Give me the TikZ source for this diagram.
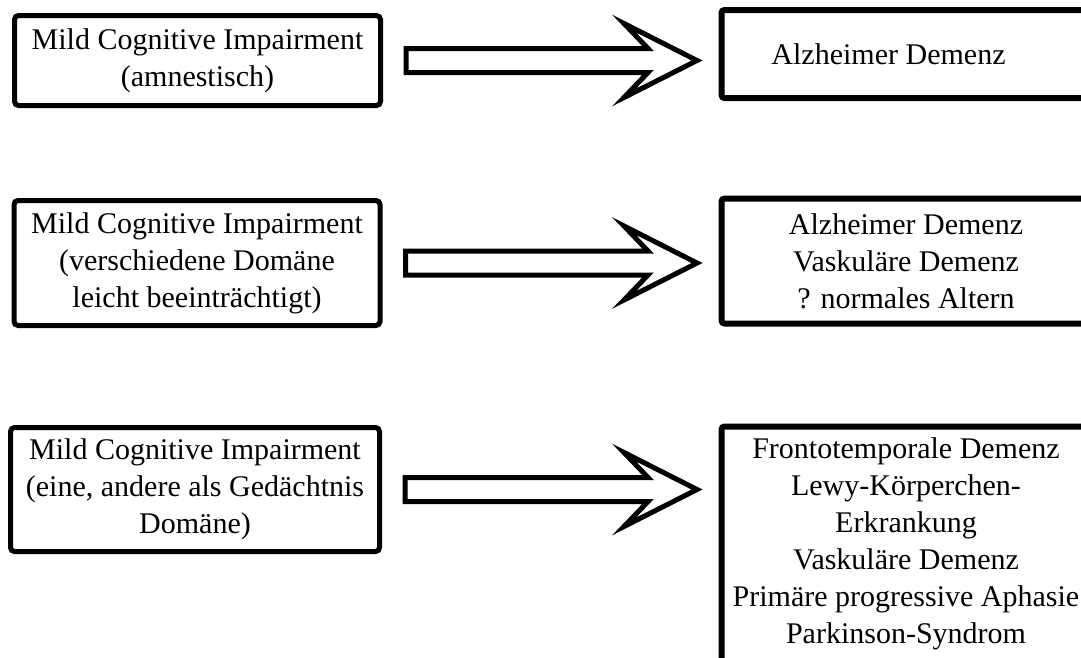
\documentclass[tikz,border=0pt]{standalone}
\usepackage{fontspec}
\setmainfont{Liberation Serif}
\usetikzlibrary{calc}
\begin{document}
\begin{tikzpicture}[x=1pt,y=-1pt,
  box/.style={draw, line width=5pt, rounded corners=4pt, outer sep=0pt,
    inner sep=0pt, align=center, fill=white,
    font=\fontsize{30}{37}\selectfont},
  rbox/.style={box, line width=6pt, rounded corners=3pt},
  blockarrow/.style={draw, line width=5pt, fill=white, line join=miter}]
\useasboundingbox (0,0) rectangle (1081,657);
\fill[white] (0,0) rectangle (1081,657);
\clip (0,0) rectangle (1081,657);

% left column: the three forms of MCI
\node[box, minimum width=366pt, minimum height=90pt] (l1) at (197.5,60.5)
  {Mild Cognitive Impairment\\(amnestisch)};
\node[box, minimum width=366pt, minimum height=125pt] (l2) at (197,263)
  {Mild Cognitive Impairment\\(verschiedene Domäne\\leicht beeinträchtigt)};
\node[box, minimum width=369pt, minimum height=124pt] (l3) at (195,489.5)
  {Mild Cognitive Impairment\\(eine, andere als Gedächtnis\\Domäne)};

% right column: possible outcomes
\node[rbox, minimum width=369pt, minimum height=88pt] (r1) at (906,54)
  {Alzheimer Demenz\hspace*{35pt}};
\node[rbox, minimum width=369pt, minimum height=125pt] (r2) at (906,261)
  {Alzheimer Demenz\\Vaskuläre Demenz\\? normales Altern};
\node[rbox, minimum width=369pt, minimum height=235.5pt] (r3) at (906,544.25)
  {Frontotemporale Demenz\\Lewy-Körperchen-\\Erkrankung\\Vaskuläre Demenz\\Primäre progressive Aphasie\\Parkinson-Syndrom};

% hollow block arrows from each MCI form to its outcomes
\foreach \i in {1,2,3}{
  \draw[blockarrow]
    let \p1=($(l\i.east)+(25.5,0)$), \p2=($(r\i.west)+(-24.5,0)$) in
    (\x1,\y1+12pt) -- (\x2-49pt,\y1+12pt) -- (\x2-73pt,\y1+37pt) --
    (\x2,\y1) -- (\x2-73pt,\y1-37pt) -- (\x2-49pt,\y1-12pt) --
    (\x1,\y1-12pt) -- cycle;
}
\end{tikzpicture}
\end{document}
